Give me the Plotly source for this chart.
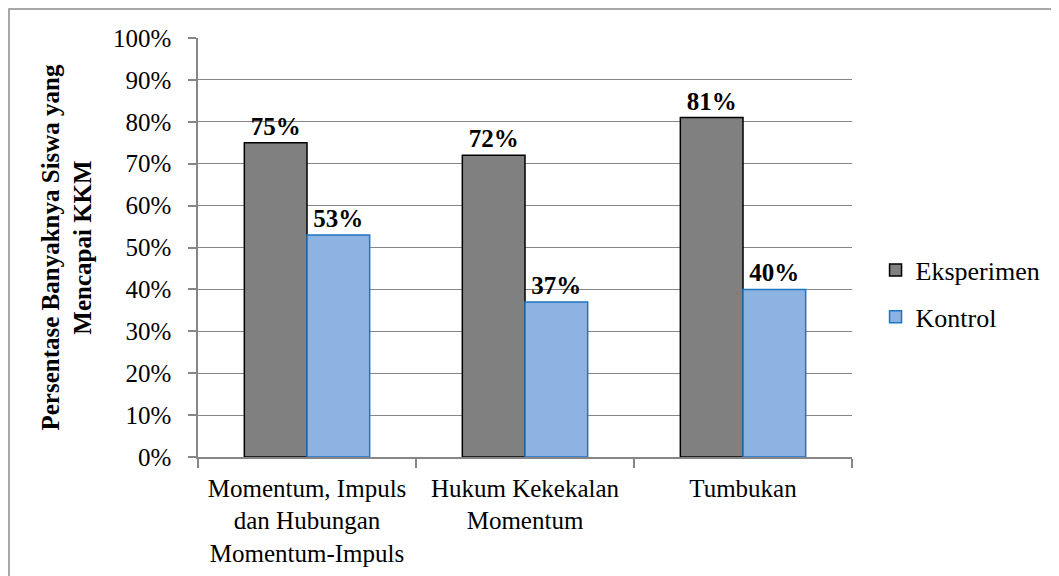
import plotly.graph_objects as go

categories = ["Momentum, Impuls<br>dan Hubungan<br>Momentum-Impuls",
              "Hukum Kekekalan<br>Momentum",
              "Tumbukan"]
eksperimen = [0.75, 0.72, 0.81]
kontrol = [0.53, 0.37, 0.40]
y_ticks = [i / 10 for i in range(11)]
y_ticklabels = [f"{i*10}%" for i in range(11)]

FONT = "Liberation Serif, Times New Roman, serif"
FS = 25

fig = go.Figure()
fig.add_trace(go.Bar(
    x=categories, y=eksperimen, name="Eksperimen", legendgroup="a",
    marker=dict(color="#808080", line=dict(color="#000000", width=1.5)),
    text=[f"{round(v*100)}%" for v in eksperimen], textposition="outside",
    textfont=dict(family=FONT, size=25, color="black"),
    texttemplate="<b>%{text}</b>", cliponaxis=False,
))
fig.add_trace(go.Bar(
    x=categories, y=kontrol, name="Kontrol", legendgroup="b",
    marker=dict(color="#8DB3E2", line=dict(color="#1F74C4", width=1.5)),
    text=[f"{round(v*100)}%" for v in kontrol], textposition="outside",
    textfont=dict(family=FONT, size=25, color="black"),
    texttemplate="<b>%{text}</b>", cliponaxis=False,
))

fig.update_layout(
    width=1051, height=568,
    margin=dict(l=190, r=207, t=30, b=119),
    paper_bgcolor="white", plot_bgcolor="white",
    barmode="group", bargap=0.425, bargroupgap=0,
    font=dict(family=FONT, size=FS, color="black"),
    uniformtext=dict(mode=False),
    legend=dict(x=1.036, y=0.39, xanchor="left", yanchor="middle",
                font=dict(family=FONT, size=26), traceorder="grouped",
                tracegroupgap=10, itemwidth=30, bgcolor="rgba(0,0,0,0)"),
    shapes=[dict(type="rect", xref="paper", yref="paper",
                 x0=-0.289, x1=1.4, y0=-0.4, y1=1.069,
                 line=dict(color="#8c8c8c", width=1.5), layer="below")],
)
fig.update_xaxes(
    automargin=False,
    showline=True, linecolor="#868686", linewidth=1.5,
    ticks="outside", tickson="boundaries", ticklen=9, tickcolor="#868686", tickwidth=1.5,
    ticklabelstandoff=8,
    tickfont=dict(family=FONT, size=25, color="black"),
    showgrid=False,
)
fig.update_yaxes(
    range=[0, 1], tickvals=y_ticks, ticktext=y_ticklabels,
    showline=True, linecolor="#868686", linewidth=1.5,
    ticks="outside", ticklen=8, tickcolor="#868686", tickwidth=1.5,
    ticklabelstandoff=12,
    showgrid=True, gridcolor="#868686", gridwidth=1.2,
    tickfont=dict(family=FONT, size=FS, color="black"),
    title=dict(text="<b>Persentase Banyaknya Siswa yang<br>Mencapai KKM</b>",
               font=dict(family=FONT, size=25, color="black"), standoff=14),
    zeroline=False,
)

fig.write_html("out.html")
